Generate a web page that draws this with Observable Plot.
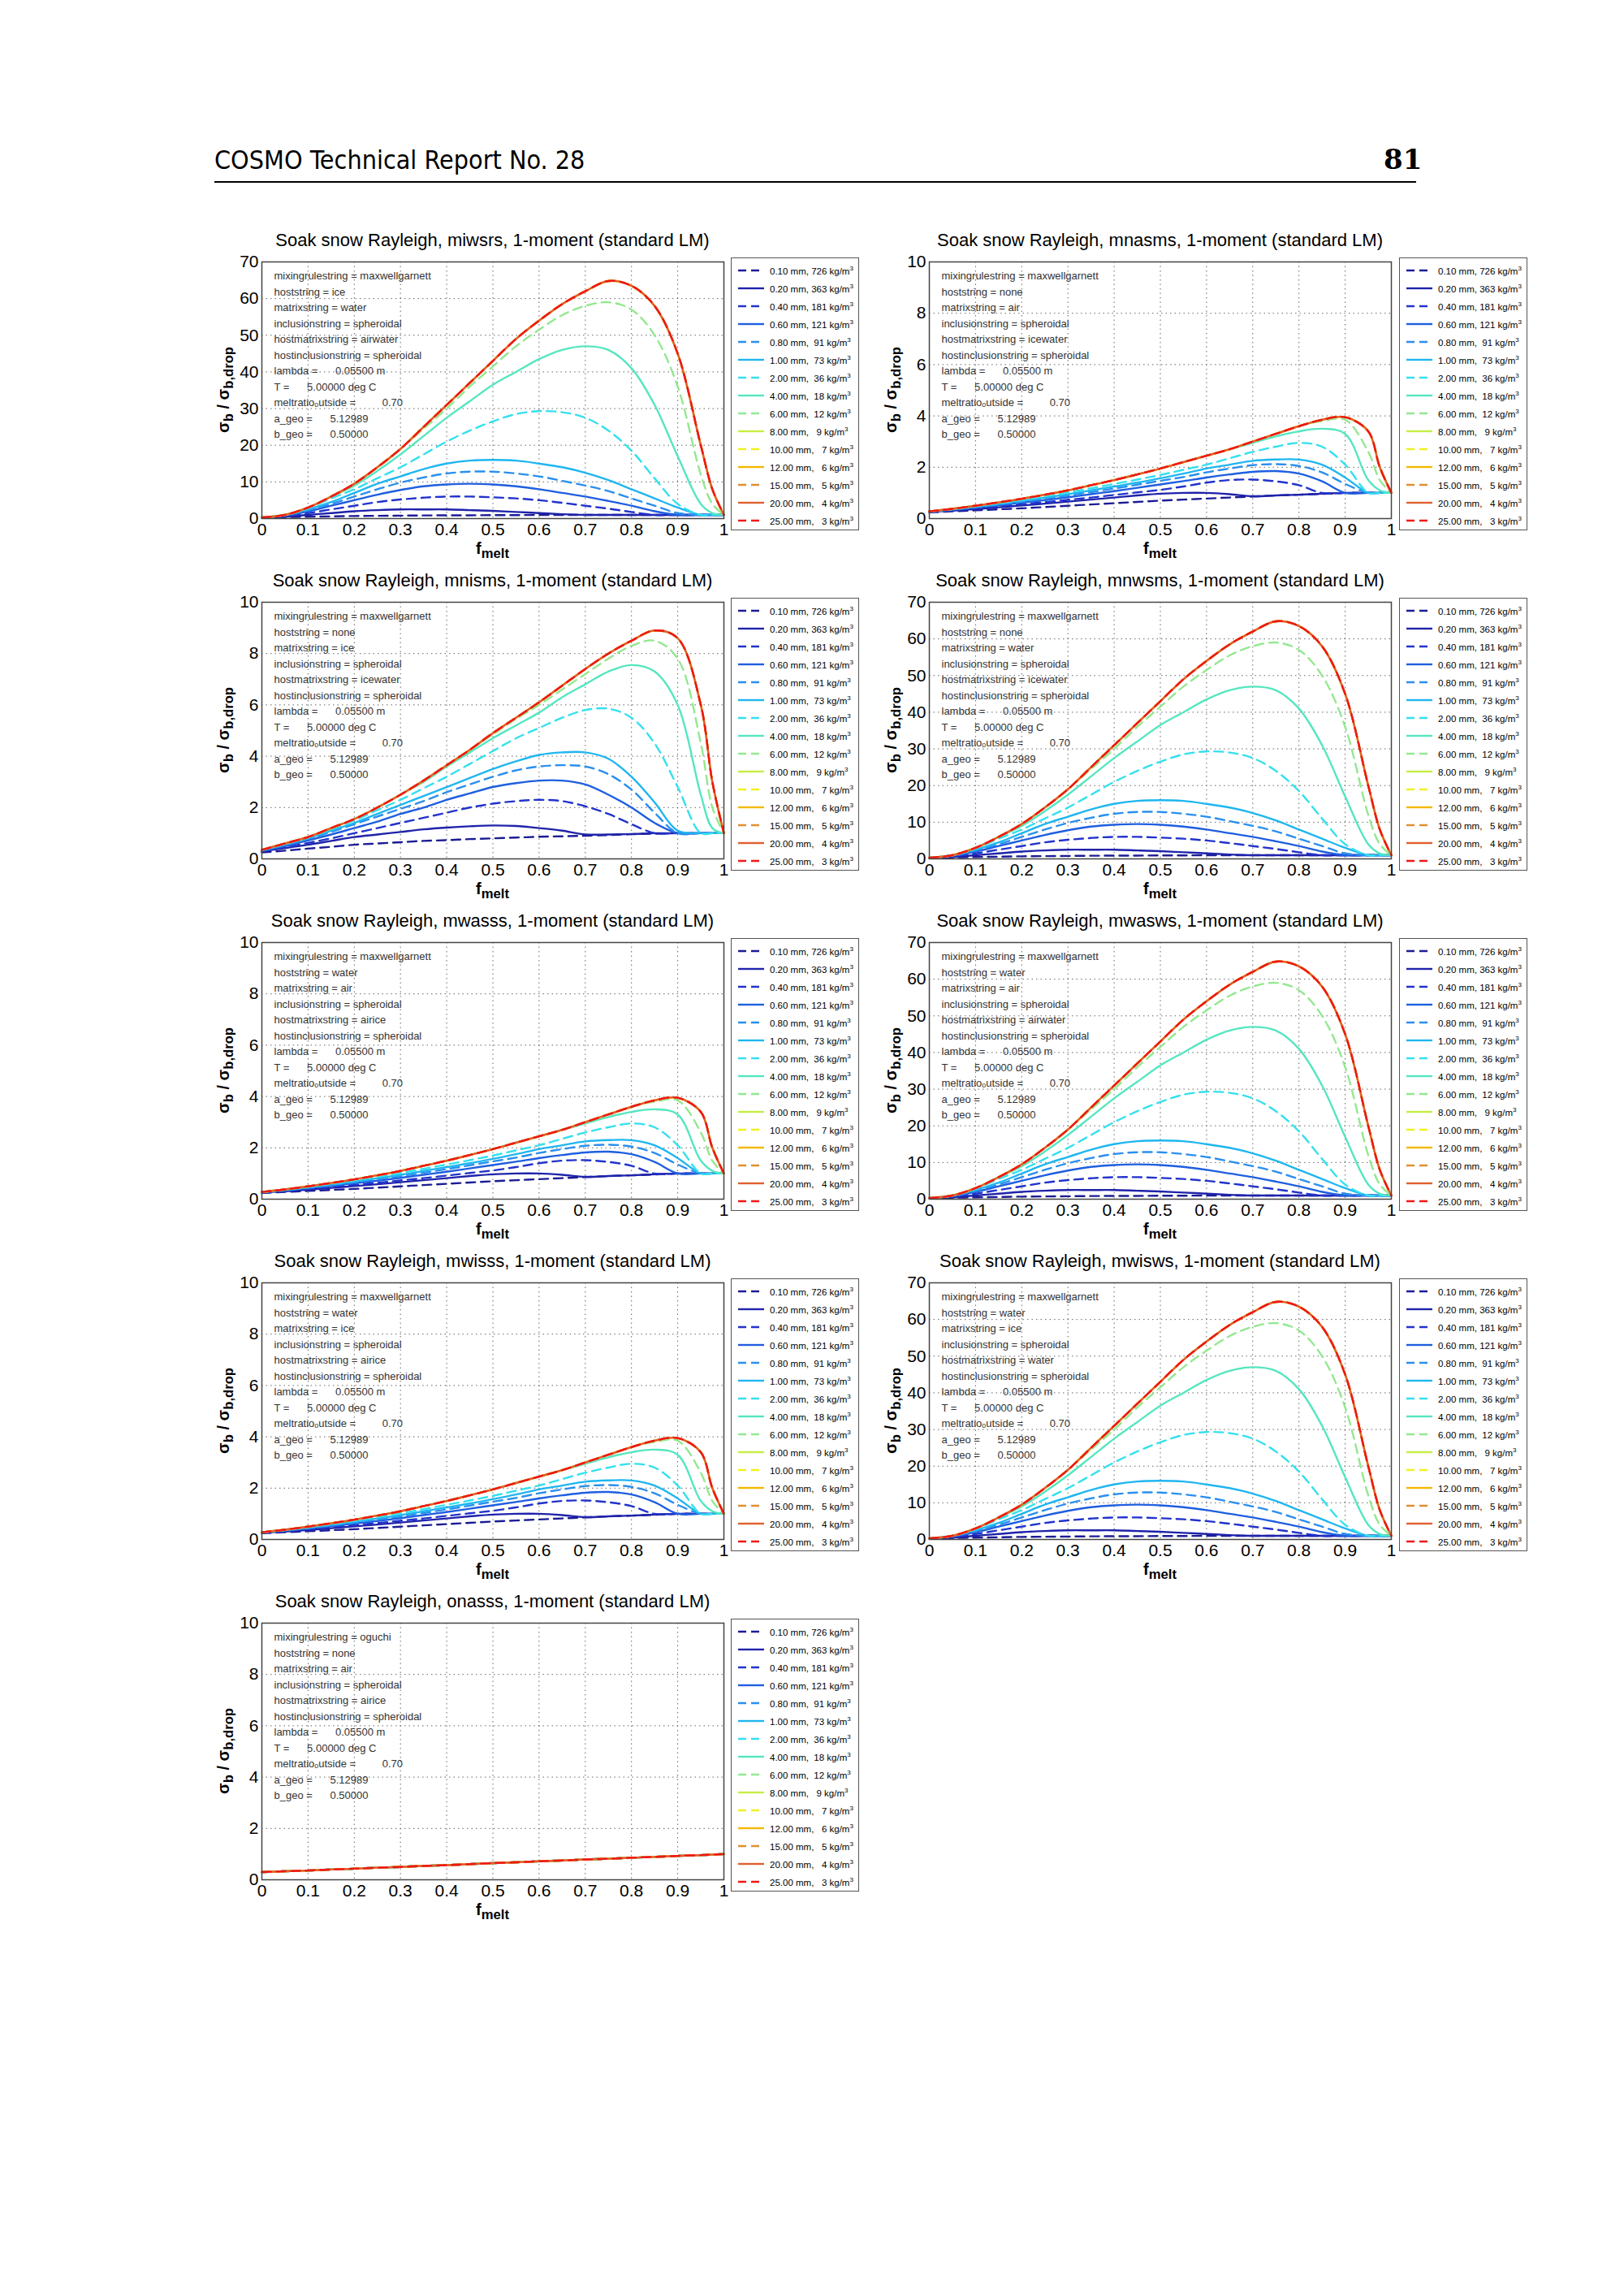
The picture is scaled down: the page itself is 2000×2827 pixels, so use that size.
<!DOCTYPE html>
<html><head><meta charset="utf-8">
<script src="https://cdn.jsdelivr.net/npm/d3@7"></script>
<script src="https://cdn.jsdelivr.net/npm/@observablehq/plot@0.6"></script>
<style>
body{margin:0;background:#fff;font-family:"Liberation Sans",Arial,sans-serif;}
#page{position:relative;width:2000px;height:2827px;overflow:hidden;}
.abs{position:absolute;}
.title{font-size:22px;white-space:nowrap;transform:translateX(-50%);}
.ylab{font-size:20px;white-space:nowrap;transform:translate(-50%,-50%) rotate(-90deg);font-weight:bold;}
.xlab{font-size:20px;white-space:nowrap;transform:translateX(-50%);font-weight:bold;}
.legend{border:1.5px solid #555;background:#fff;box-sizing:border-box;padding-top:4px;}
.lrow{height:22px;display:flex;align-items:center;font-size:11.5px;white-space:nowrap;}
.lrow svg{margin:0 5px 0 6px;flex:none;}
sup{font-size:8px;}
</style></head><body><div id="page"></div>
<script>
// x grid of the read values
const fmelt = [0,0.05,0.1,0.15,0.2,0.25,0.3,0.35,0.4,0.45,0.5,0.55,0.6,0.65,0.7,0.75,0.8,0.85,0.9,0.95,0.975,1];
const sizes = ["0.10 mm, 726","0.20 mm, 363","0.40 mm, 181","0.60 mm, 121","0.80 mm,  91","1.00 mm,  73","2.00 mm,  36","4.00 mm,  18","6.00 mm,  12","8.00 mm,   9","10.00 mm,   7","12.00 mm,   6","15.00 mm,   5","20.00 mm,   4","25.00 mm,   3"];
const colors = ["#1c1c96","#1f23aa","#2233cc","#1f5fdf","#2a8fee","#1fb6f0","#34e0ee","#55e6c0","#94e890","#c6ee44","#f2f020","#f4b800","#df9030","#e06030","#f01818"];
const dashed = [true,false,true,false,true,false,true,false,true,false,true,false,true,false,true];

// Shape A: 0..70 panels (miwsrs, mnwsms, mwasws, mwisws)
const A_01 = [0.3,0.4,0.5,0.6,0.7,0.75,0.8,0.85,0.9,0.9,0.95,0.95,1,1,1,1,1,1,1,1,1,1];
const A_02 = [0.3,0.5,1,1.5,2,2.3,2.5,2.5,2.5,2.3,2.1,1.8,1.5,1.2,1,1,1,1,1,1,1,1];
const A_04 = [0.3,0.7,1.5,2.5,3.5,4.5,5.2,5.7,6,6,5.8,5.5,5,4.3,3.5,2.7,1.8,1,1,1,1,1];
const A_06 = [0.3,0.8,2,3.5,5,6.5,7.8,8.8,9.3,9.5,9.3,8.8,8,7,6,4.8,3.5,2,1,1,1,1];
const A_08 = [0.3,0.9,2.3,4,6,8,9.8,11.2,12.3,12.8,12.8,12.3,11.5,10.3,9,7.5,5.5,3.5,1.5,1,1,1];
const A_1 = [0.3,1,2.5,4.5,7,9.5,11.5,13.5,15,15.8,16,15.8,15,14,12.5,10.5,8,5.5,3,1,1,1];
const A_2 = [0.3,1,2.8,5.5,8,11,14,17.5,21,24,26.5,28.5,29.3,29,27.5,24,18.5,11,4,1,1,1];
const A_4 = [0.3,1,3,6,9,13,17.5,22.5,27.5,32,36.5,40,43.5,46,47,46,41,31,17,4,1.5,1];
const A_6 = [0.3,1,3,6,9.5,14,19,24.5,30,36,41.5,47,51.5,55.5,58,59,57,50,36,12,4,1];
const A_big = [0.3,1,3,6,9.5,14,19,25,31,37,43,49,54,58.5,62,64.8,63.5,58,45,20,8,1];
const shapeA = [A_01,A_02,A_04,A_06,A_08,A_1,A_2,A_4,A_6,A_big,A_big,A_big,A_big,A_big,A_big];

// Shape B: mnisms
const B_01 = [0.25,0.32,0.4,0.47,0.55,0.6,0.65,0.7,0.73,0.77,0.8,0.83,0.86,0.88,0.9,0.93,0.96,0.98,1,1,1,1];
const B_02 = [0.3,0.42,0.55,0.7,0.85,0.95,1.05,1.15,1.22,1.27,1.3,1.28,1.2,1.1,0.95,0.95,0.97,1,1,1,1,1];
const B_04 = [0.3,0.45,0.62,0.8,1,1.2,1.4,1.6,1.8,2,2.15,2.25,2.3,2.25,2.05,1.75,1.35,1,1,1,1,1];
const B_06 = [0.32,0.5,0.72,0.95,1.2,1.45,1.75,2,2.3,2.55,2.8,2.95,3.05,3.05,2.9,2.5,2,1.4,1,1,1,1];
const B_08 = [0.33,0.55,0.78,1.05,1.35,1.65,1.95,2.25,2.6,2.9,3.2,3.45,3.6,3.65,3.6,3.3,2.7,1.8,1,1,1,1];
const B_1 = [0.33,0.55,0.8,1.1,1.4,1.75,2.1,2.45,2.8,3.15,3.5,3.8,4.05,4.15,4.15,3.9,3.2,2.2,1.1,1,1,1];
const B_2 = [0.35,0.6,0.85,1.15,1.5,1.9,2.3,2.75,3.2,3.7,4.2,4.7,5.1,5.5,5.8,5.85,5.5,4.5,2.8,1,1,1];
const B_4 = [0.35,0.6,0.85,1.2,1.55,2,2.5,3,3.6,4.15,4.7,5.2,5.7,6.3,6.8,7.3,7.55,7.3,6,2.5,1.2,1];
const B_6 = [0.35,0.6,0.85,1.2,1.55,2,2.5,3.05,3.65,4.25,4.85,5.45,6,6.6,7.2,7.8,8.3,8.5,7.8,4.5,2,1];
const B_big = [0.35,0.6,0.85,1.2,1.55,2,2.5,3.05,3.65,4.25,4.9,5.5,6.1,6.75,7.4,8,8.5,8.9,8.6,6,3,1];
const shapeB = [B_01,B_02,B_04,B_06,B_08,B_1,B_2,B_4,B_6,B_big,B_big,B_big,B_big,B_big,B_big];

// Shape C: mnasms, mwasss, mwisss
const C_01 = [0.24,0.28,0.32,0.36,0.4,0.45,0.5,0.55,0.6,0.65,0.7,0.74,0.78,0.82,0.86,0.9,0.93,0.96,1,1,1,1];
const C_02 = [0.26,0.31,0.37,0.44,0.51,0.58,0.66,0.74,0.82,0.9,0.97,1,1,0.95,0.87,0.9,0.93,0.97,1,1,1,1];
const C_04 = [0.26,0.33,0.4,0.48,0.56,0.64,0.73,0.82,0.92,1.02,1.12,1.25,1.4,1.5,1.52,1.45,1.3,1,1,1,1,1];
const C_06 = [0.27,0.34,0.43,0.52,0.62,0.72,0.83,0.95,1.07,1.2,1.33,1.46,1.6,1.72,1.82,1.85,1.75,1.45,1,1,1,1];
const C_08 = [0.27,0.35,0.45,0.55,0.66,0.78,0.9,1.03,1.17,1.32,1.47,1.62,1.8,1.95,2.08,2.12,2.05,1.8,1.35,1,1,1];
const C_1 = [0.28,0.36,0.46,0.57,0.69,0.82,0.95,1.1,1.25,1.4,1.57,1.75,1.95,2.1,2.25,2.3,2.3,2.1,1.6,1,1,1];
const C_2 = [0.28,0.37,0.48,0.6,0.73,0.87,1.02,1.18,1.35,1.52,1.7,1.9,2.1,2.35,2.6,2.8,2.95,2.8,2.1,1,1,1];
const C_4 = [0.28,0.38,0.5,0.63,0.77,0.93,1.1,1.3,1.5,1.72,1.95,2.2,2.45,2.7,2.95,3.2,3.4,3.5,3.3,1.5,1.1,1];
const C_6 = [0.28,0.38,0.5,0.63,0.77,0.93,1.1,1.3,1.5,1.72,1.95,2.2,2.45,2.7,3,3.3,3.6,3.8,3.85,2.6,1.5,1];
const C_big = [0.28,0.38,0.5,0.63,0.77,0.93,1.1,1.3,1.5,1.72,1.95,2.2,2.45,2.7,3,3.3,3.6,3.85,3.95,3.4,2,1];
const shapeC = [C_01,C_02,C_04,C_06,C_08,C_1,C_2,C_4,C_6,C_big,C_big,C_big,C_big,C_big,C_big];

// Shape D: onasss (all nearly identical)
const D_all = [0.3,0.33,0.36,0.4,0.43,0.47,0.5,0.54,0.57,0.61,0.65,0.68,0.72,0.75,0.79,0.82,0.86,0.89,0.93,0.96,0.98,1.0];
const shapeD = sizes.map(() => D_all);

const xTicks = [0,0.1,0.2,0.3,0.4,0.5,0.6,0.7,0.8,0.9,1];
const yTicks70 = [0,10,20,30,40,50,60,70];
const yTicks10 = [0,2,4,6,8,10];

const panelNames = ["miwsrs","mnasms","mnisms","mnwsms","mwasss","mwasws","mwisss","mwisws","onasss"];
const mixing = ["maxwellgarnett","maxwellgarnett","maxwellgarnett","maxwellgarnett","maxwellgarnett","maxwellgarnett","maxwellgarnett","maxwellgarnett","oguchi"];
const hosts = ["ice","none","none","none","water","water","water","water","none"];
const matrices = ["water","air","ice","water","air","air","ice","ice","air"];
const hostmatrices = ["airwater","icewater","icewater","icewater","airice","airwater","airice","water","airice"];
const panelShapes = [shapeA,shapeC,shapeB,shapeA,shapeC,shapeA,shapeC,shapeA,shapeD];
const panelYmax = [70,10,10,70,10,70,10,70,10];

const page = document.getElementById("page");
function add(html, cls, left, top){const d=document.createElement("div");d.className="abs "+(cls||"");d.style.left=left+"px";d.style.top=top+"px";d.innerHTML=html;page.appendChild(d);return d;}

// header
add("COSMO Technical Report No. 28","",264,178).style.cssText+="font-family:'DejaVu Sans Condensed','DejaVu Sans';font-size:32px;font-stretch:condensed;";
add("81","",1704,176).style.cssText+="font-family:'DejaVu Serif';font-size:34px;font-weight:bold;";
add("","",264,223).style.cssText+="width:1480px;border-top:2px solid #000;";

const PW=569, PH=316, ML=60, MR=10, MT=10, MB=40;
const colX=[322,1144], legX=[900,1723];
const rowY=[322,741,1160,1579,1998];

panelNames.forEach((name,i)=>{
  const col=i%2, row=Math.floor(i/2);
  const px=colX[col], py=rowY[row];
  const ymax=panelYmax[i];
  const shape=panelShapes[i];
  const annot=["mixingrulestring = "+mixing[i],"hoststring = "+hosts[i],"matrixstring = "+matrices[i],"inclusionstring = spheroidal","hostmatrixstring = "+hostmatrices[i],"hostinclusionstring = spheroidal","lambda =      0.05500 m","T =      5.00000 deg C","meltratioₒutside =         0.70","a_geo =      5.12989","b_geo =      0.50000"].join("\n");
  const lines = shape.map((arr,k)=>Plot.line(fmelt.map((x,j)=>({x,y:arr[j]})),{x:"x",y:"y",stroke:colors[k],strokeWidth:2.4,strokeDasharray:dashed[k]?"11,7":null,curve:"catmull-rom"}));
  const chart=Plot.plot({
    width:PW+ML+MR,height:PH+MT+MB,marginLeft:ML,marginRight:MR,marginTop:MT,marginBottom:MB,
    style:{fontSize:"21px",fontFamily:"Liberation Sans, Arial, sans-serif",background:"transparent",overflow:"visible"},
    x:{domain:[0,1]},y:{domain:[0,ymax]},
    marks:[
      Plot.gridX(xTicks,{stroke:"#555",strokeOpacity:0.9,strokeDasharray:"1.5,4"}),
      Plot.gridY(ymax===70?yTicks70:yTicks10,{stroke:"#555",strokeOpacity:0.9,strokeDasharray:"1.5,4"}),
      Plot.axisX(xTicks,{tickSize:0,tickPadding:6,label:null,tickFormat:d=>String(d),fill:"#000"}),
      Plot.axisY(ymax===70?yTicks70:yTicks10,{tickSize:0,tickPadding:4,label:null,fill:"#000"}),
      Plot.text([annot],{frameAnchor:"top-left",dx:15,dy:8,fontSize:13,lineHeight:1.5,fill:"#333",text:d=>d}),
      ...lines,
      Plot.frame({stroke:"#444",strokeWidth:1.5})
    ]
  });
  chart.style.position="absolute";chart.style.left=(px-ML)+"px";chart.style.top=(py-MT)+"px";
  page.appendChild(chart);
  add("Soak snow Rayleigh, "+name+", 1-moment (standard LM)","title",px+PW/2,py-39);
  add("σ<sub>b</sub> / σ<sub>b,drop</sub>","ylab",px-44,py+PH/2);
  add("f<sub>melt</sub>","xlab",px+PW/2,py+PH+26);
  const leg=add("","legend",legX[col],py-5);
  leg.style.width="158px";leg.style.height="336px";
  leg.innerHTML=sizes.map((s,k)=>`<div class="lrow"><svg width="36" height="6"><line x1="2" x2="34" y1="3" y2="3" stroke="${colors[k]}" stroke-width="2.4" ${dashed[k]?'stroke-dasharray="10,6"':''}/></svg><span style="white-space:pre">${s} kg/m<sup>3</sup></span></div>`).join("");
});
</script></body></html>
